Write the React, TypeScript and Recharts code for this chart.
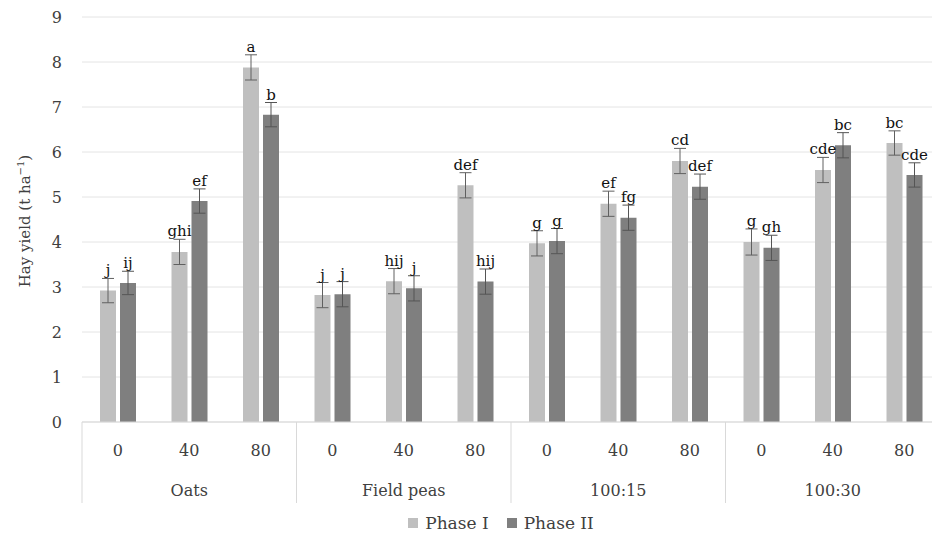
import React from 'react'
import { BarChart, Bar, XAxis, YAxis, CartesianGrid, ErrorBar, LabelList, Legend } from 'recharts'

const GROUPS = ['Oats', 'Field peas', '100:15', '100:30']
const DOSES = ['0', '40', '80']
const PHASE_1 = [2.92, 3.78, 7.88, 2.82, 3.13, 5.26, 3.97, 4.85, 5.8, 4.0, 5.6, 6.2]
const PHASE_2 = [3.09, 4.91, 6.83, 2.84, 2.97, 3.12, 4.02, 4.54, 5.23, 3.87, 6.15, 5.49]
const ERR_1 = [0.27, 0.28, 0.28, 0.28, 0.28, 0.28, 0.28, 0.28, 0.28, 0.29, 0.28, 0.27]
const ERR_2 = [0.26, 0.27, 0.27, 0.28, 0.28, 0.28, 0.28, 0.28, 0.28, 0.28, 0.28, 0.27]
const LETTERS_1 = ['j', 'ghi', 'a', 'j', 'hij', 'def', 'g', 'ef', 'cd', 'g', 'cde', 'bc']
const LETTERS_2 = ['ij', 'ef', 'b', 'j', 'j', 'hij', 'g', 'fg', 'def', 'gh', 'bc', 'cde']
const Y_TICKS = [0, 1, 2, 3, 4, 5, 6, 7, 8, 9]
const SERIES = ['Phase I', 'Phase II']

const COLOR_1 = '#bfbfbf'
const COLOR_2 = '#7f7f7f'
const FONT = '"DejaVu Serif", serif'
const TEXT = '#404040'

const W = 950
const H = 535
const M_TOP = 17
const M_RIGHT = 10
const Y_W = 82
const X1_H = 40
const X2_H = 41
const LEG_H = 32
const PLOT_BOTTOM = H - LEG_H - X1_H - X2_H
const PLOT_H = PLOT_BOTTOM - M_TOP
const BAND = (W - Y_W - M_RIGHT) / (GROUPS.length * DOSES.length)
const PX_PER_UNIT = PLOT_H / Y_TICKS[Y_TICKS.length - 1]

const data = GROUPS.flatMap((g, gi) =>
  DOSES.map((d, di) => {
    const i = gi * DOSES.length + di
    return {
      key: `${g}-${d}`,
      dose: d,
      group: g,
      p1: PHASE_1[i],
      p2: PHASE_2[i],
      e1: ERR_1[i],
      e2: ERR_2[i],
      l1: LETTERS_1[i],
      l2: LETTERS_2[i],
    }
  })
)

// letters sit just above the error bar cap
const letterLabel = (errs: number[]) => (props: any) => {
  const { x, y, width, value, index } = props
  const top = Number(y) - errs[index] * PX_PER_UNIT
  return (
    <text x={Number(x) + Number(width) / 2} y={top - 3} textAnchor="middle" fontFamily={FONT} fontSize={15} fill="#111">
      {value}
    </text>
  )
}

const DoseTick = (props: any) => {
  const { x, payload } = props
  return (
    <text x={x} y={PLOT_BOTTOM + 28} textAnchor="middle" dominantBaseline="central" fontFamily={FONT} fontSize={16} fill={TEXT}>
      {data[payload.index]?.dose ?? ''}
    </text>
  )
}

const GroupTick = (props: any) => {
  const { x, index } = props
  const pos = index % DOSES.length
  const lineProps = { y1: PLOT_BOTTOM, y2: PLOT_BOTTOM + X1_H + X2_H, stroke: '#d9d9d9', strokeWidth: 1 }
  return (
    <g>
      {pos === 0 && <line x1={x - BAND / 2} x2={x - BAND / 2} {...lineProps} />}
      {index === data.length - 1 && <line x1={x + BAND / 2} x2={x + BAND / 2} {...lineProps} />}
      {pos === 1 && (
        <text x={x} y={PLOT_BOTTOM + 68} textAnchor="middle" dominantBaseline="central" fontFamily={FONT} fontSize={16} fill={TEXT}>
          {data[index].group}
        </text>
      )}
    </g>
  )
}

const YLabel = () => (
  <text x={30} y={221} transform="rotate(-90 30 221)" textAnchor="middle" fontFamily={FONT} fontSize={15} fill={TEXT}>
    Hay yield (t ha<tspan dy={-6} fontSize={10}>−1</tspan>
    <tspan dy={6}>)</tspan>
  </text>
)

const LegendBox = () => (
  <div style={{ display: 'flex', justifyContent: 'center', alignItems: 'center', height: LEG_H, paddingLeft: 52, paddingTop: 8, boxSizing: 'border-box', fontFamily: FONT, fontSize: 17, color: TEXT }}>
    {SERIES.map((s, i) => (
      <span key={s} style={{ display: 'flex', alignItems: 'center', marginRight: i === 0 ? 18 : 0 }}>
        <span style={{ width: 10, height: 10, background: i === 0 ? COLOR_1 : COLOR_2, marginRight: 7, display: 'inline-block' }} />
        {s}
      </span>
    ))}
  </div>
)

export default function App() {
  return (
    <div style={{ position: 'absolute', left: 0, top: 0, width: 932, height: 535, overflow: 'hidden', background: '#fff' }}>
      <BarChart width={W} height={H} data={data} margin={{ top: M_TOP, right: M_RIGHT, bottom: 0, left: 0 }} barSize={16} barGap={4}>
        <CartesianGrid vertical={false} stroke="#e4e4e4" />
        <XAxis dataKey="key" interval={0} height={X1_H} tickLine={false} axisLine={{ stroke: '#d9d9d9' }} tick={<DoseTick />} />
        <XAxis xAxisId="g" dataKey="key" interval={0} height={X2_H} tickLine={false} axisLine={false} tick={<GroupTick />} />
        <YAxis
          width={Y_W}
          domain={[0, 9]}
          ticks={Y_TICKS}
          interval={0}
          tickLine={false}
          axisLine={false}
          tickMargin={14}
          tick={{ fontFamily: FONT, fontSize: 16, fill: TEXT }}
          label={{ content: () => <YLabel /> }}
        />
        <Legend verticalAlign="bottom" height={LEG_H} wrapperStyle={{ left: 0, width: W, bottom: 0 }} content={() => <LegendBox />} />
        <Bar dataKey="p1" name={SERIES[0]} fill={COLOR_1} isAnimationActive={false}>
          <ErrorBar dataKey="e1" width={6} stroke="#606060" strokeWidth={1} />
          <LabelList dataKey="l1" content={letterLabel(ERR_1)} />
        </Bar>
        <Bar dataKey="p2" name={SERIES[1]} fill={COLOR_2} isAnimationActive={false}>
          <ErrorBar dataKey="e2" width={6} stroke="#555555" strokeWidth={1} />
          <LabelList dataKey="l2" content={letterLabel(ERR_2)} />
        </Bar>
      </BarChart>
    </div>
  )
}
